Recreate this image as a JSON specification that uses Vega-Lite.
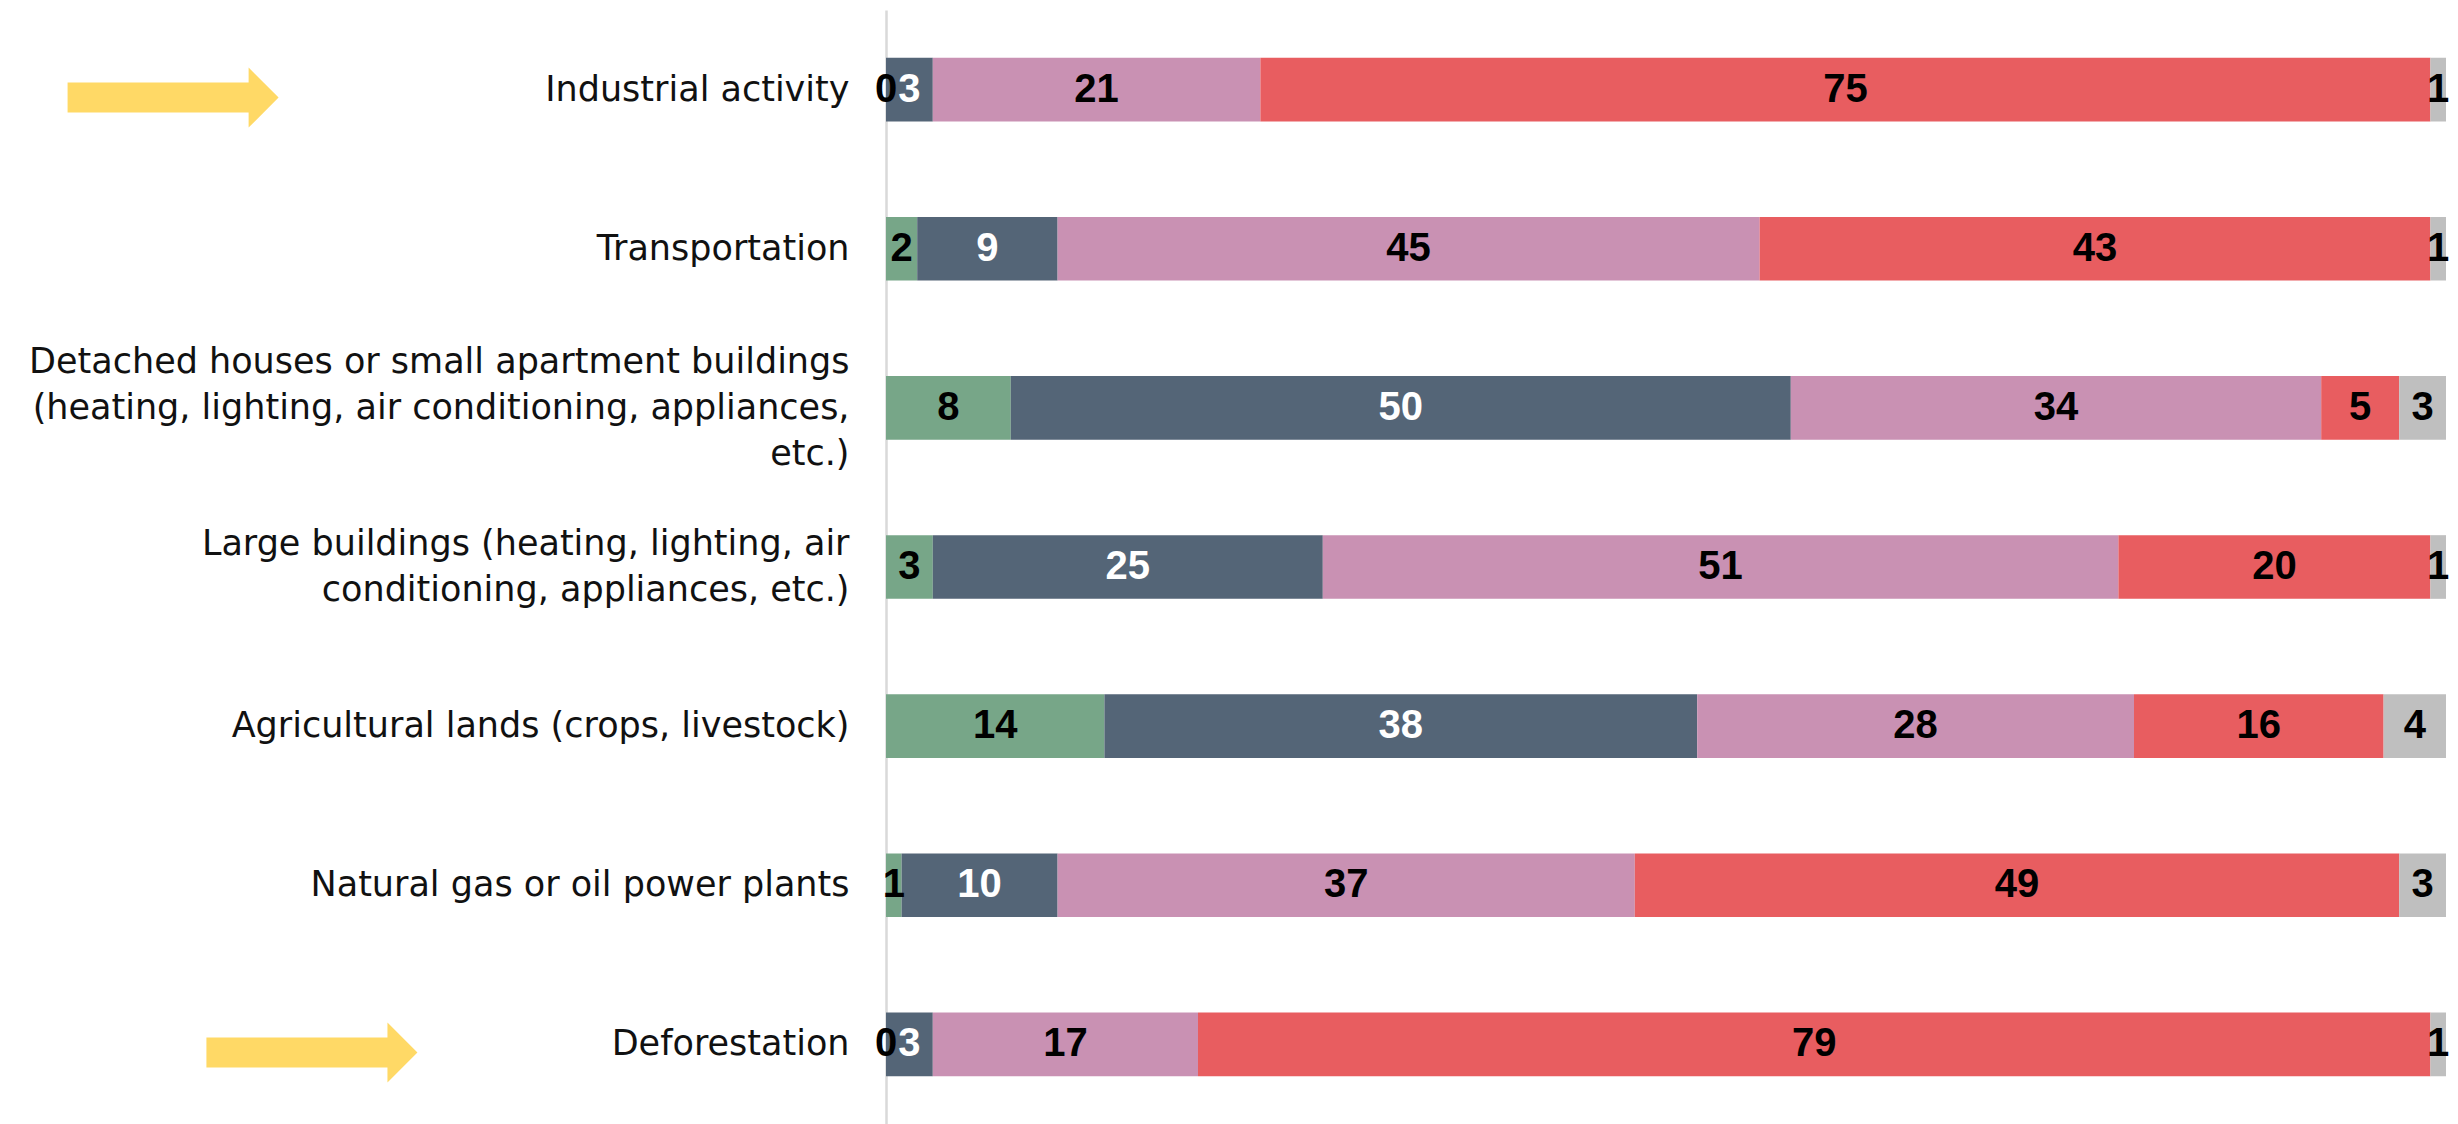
{
  "$schema": "https://vega.github.io/schema/vega-lite/v6.json",
  "autosize": {"type": "none"},
  "padding": {"left": 886, "top": 10, "right": 12, "bottom": 0},
  "width": 1560,
  "height": 1114,
  "background": "white",
  "config": {"view": {"stroke": null}},
  "datasets": {
    "survey": [
      {"item": "Industrial activity", "response": "Not at all", "order": 1, "value": 0},
      {"item": "Industrial activity", "response": "A little", "order": 2, "value": 3},
      {"item": "Industrial activity", "response": "Some", "order": 3, "value": 21},
      {"item": "Industrial activity", "response": "A lot", "order": 4, "value": 75},
      {"item": "Industrial activity", "response": "Don't know", "order": 5, "value": 1},
      {"item": "Transportation", "response": "Not at all", "order": 1, "value": 2},
      {"item": "Transportation", "response": "A little", "order": 2, "value": 9},
      {"item": "Transportation", "response": "Some", "order": 3, "value": 45},
      {"item": "Transportation", "response": "A lot", "order": 4, "value": 43},
      {"item": "Transportation", "response": "Don't know", "order": 5, "value": 1},
      {"item": "Detached houses or small apartment buildings (heating, lighting, air conditioning, appliances, etc.)", "response": "Not at all", "order": 1, "value": 8},
      {"item": "Detached houses or small apartment buildings (heating, lighting, air conditioning, appliances, etc.)", "response": "A little", "order": 2, "value": 50},
      {"item": "Detached houses or small apartment buildings (heating, lighting, air conditioning, appliances, etc.)", "response": "Some", "order": 3, "value": 34},
      {"item": "Detached houses or small apartment buildings (heating, lighting, air conditioning, appliances, etc.)", "response": "A lot", "order": 4, "value": 5},
      {"item": "Detached houses or small apartment buildings (heating, lighting, air conditioning, appliances, etc.)", "response": "Don't know", "order": 5, "value": 3},
      {"item": "Large buildings (heating, lighting, air conditioning, appliances, etc.)", "response": "Not at all", "order": 1, "value": 3},
      {"item": "Large buildings (heating, lighting, air conditioning, appliances, etc.)", "response": "A little", "order": 2, "value": 25},
      {"item": "Large buildings (heating, lighting, air conditioning, appliances, etc.)", "response": "Some", "order": 3, "value": 51},
      {"item": "Large buildings (heating, lighting, air conditioning, appliances, etc.)", "response": "A lot", "order": 4, "value": 20},
      {"item": "Large buildings (heating, lighting, air conditioning, appliances, etc.)", "response": "Don't know", "order": 5, "value": 1},
      {"item": "Agricultural lands (crops, livestock)", "response": "Not at all", "order": 1, "value": 14},
      {"item": "Agricultural lands (crops, livestock)", "response": "A little", "order": 2, "value": 38},
      {"item": "Agricultural lands (crops, livestock)", "response": "Some", "order": 3, "value": 28},
      {"item": "Agricultural lands (crops, livestock)", "response": "A lot", "order": 4, "value": 16},
      {"item": "Agricultural lands (crops, livestock)", "response": "Don't know", "order": 5, "value": 4},
      {"item": "Natural gas or oil power plants", "response": "Not at all", "order": 1, "value": 1},
      {"item": "Natural gas or oil power plants", "response": "A little", "order": 2, "value": 10},
      {"item": "Natural gas or oil power plants", "response": "Some", "order": 3, "value": 37},
      {"item": "Natural gas or oil power plants", "response": "A lot", "order": 4, "value": 49},
      {"item": "Natural gas or oil power plants", "response": "Don't know", "order": 5, "value": 3},
      {"item": "Deforestation", "response": "Not at all", "order": 1, "value": 0},
      {"item": "Deforestation", "response": "A little", "order": 2, "value": 3},
      {"item": "Deforestation", "response": "Some", "order": 3, "value": 17},
      {"item": "Deforestation", "response": "A lot", "order": 4, "value": 79},
      {"item": "Deforestation", "response": "Don't know", "order": 5, "value": 1}
    ],
    "arrows": [
      {"item": "Industrial activity", "x": -45.7},
      {"item": "Deforestation", "x": -36.8}
    ]
  },
  "layer": [
    {
      "data": {"name": "survey"},
      "transform": [
        {"stack": "value", "groupby": ["item"], "sort": [{"field": "order", "order": "ascending"}], "as": ["v0", "v1"]}
      ],
      "mark": {"type": "bar"},
      "encoding": {
        "y": {
          "field": "item", "type": "nominal",
          "sort": ["Industrial activity", "Transportation", "Detached houses or small apartment buildings (heating, lighting, air conditioning, appliances, etc.)", "Large buildings (heating, lighting, air conditioning, appliances, etc.)", "Agricultural lands (crops, livestock)", "Natural gas or oil power plants", "Deforestation"],
          "scale": {"paddingInner": 0.6, "paddingOuter": 0.3},
          "axis": {
            "title": null,
            "ticks": false,
            "domain": true,
            "domainColor": "#d9d9d9",
            "domainWidth": 2.5,
            "labelFont": "DejaVu Sans",
            "labelFontSize": 35,
            "labelColor": "#111111",
            "labelPadding": 37,
            "labelLimit": 0,
            "labelLineHeight": 46,
            "labelBaseline": "middle",
            "labelOffset": {
              "condition": [
                {"test": "datum.value === 'Detached houses or small apartment buildings (heating, lighting, air conditioning, appliances, etc.)'", "value": -46},
                {"test": "datum.value === 'Large buildings (heating, lighting, air conditioning, appliances, etc.)'", "value": -23}
              ],
              "value": 0
            },
            "labelExpr": "datum.value === 'Detached houses or small apartment buildings (heating, lighting, air conditioning, appliances, etc.)' ? ['Detached houses or small apartment buildings', '(heating, lighting, air conditioning, appliances,', 'etc.)'] : datum.value === 'Large buildings (heating, lighting, air conditioning, appliances, etc.)' ? ['Large buildings (heating, lighting, air', 'conditioning, appliances, etc.)'] : datum.value"
          }
        },
        "x": {"field": "v0", "type": "quantitative", "scale": {"domain": [0, 100], "nice": false, "zero": false}, "axis": null},
        "x2": {"field": "v1"},
        "color": {
          "field": "response", "type": "nominal",
          "scale": {"domain": ["Not at all", "A little", "Some", "A lot", "Don't know"], "range": ["#77A688", "#546577", "#C991B3", "#E85D60", "#BFBFBF"]},
          "legend": null
        }
      }
    },
    {
      "data": {"name": "survey"},
      "transform": [
        {"stack": "value", "groupby": ["item"], "sort": [{"field": "order", "order": "ascending"}], "as": ["v0", "v1"]},
        {"calculate": "(datum.v0 + datum.v1) / 2", "as": "mid"}
      ],
      "mark": {"type": "text", "font": "Liberation Sans", "fontWeight": "bold", "fontSize": 40, "baseline": "middle", "align": "center"},
      "encoding": {
        "y": {"field": "item", "type": "nominal", "sort": ["Industrial activity", "Transportation", "Detached houses or small apartment buildings (heating, lighting, air conditioning, appliances, etc.)", "Large buildings (heating, lighting, air conditioning, appliances, etc.)", "Agricultural lands (crops, livestock)", "Natural gas or oil power plants", "Deforestation"]},
        "x": {"field": "mid", "type": "quantitative"},
        "text": {"field": "value", "type": "quantitative", "format": "d"},
        "color": {"condition": {"test": "datum.response === 'A little'", "value": "white"}, "value": "black"}
      }
    },
    {
      "data": {"name": "arrows"},
      "mark": {
        "type": "point",
        "shape": "M -1 -0.142 L 0.716 -0.142 L 0.716 -0.284 L 1 0 L 0.716 0.284 L 0.716 0.142 L -1 0.142 Z",
        "size": 44521,
        "filled": true,
        "opacity": 1,
        "strokeWidth": 0,
        "color": "#FFD966",
        "yOffset": 8
      },
      "encoding": {
        "y": {"field": "item", "type": "nominal", "sort": ["Industrial activity", "Transportation", "Detached houses or small apartment buildings (heating, lighting, air conditioning, appliances, etc.)", "Large buildings (heating, lighting, air conditioning, appliances, etc.)", "Agricultural lands (crops, livestock)", "Natural gas or oil power plants", "Deforestation"]},
        "x": {"field": "x", "type": "quantitative"}
      }
    }
  ]
}
